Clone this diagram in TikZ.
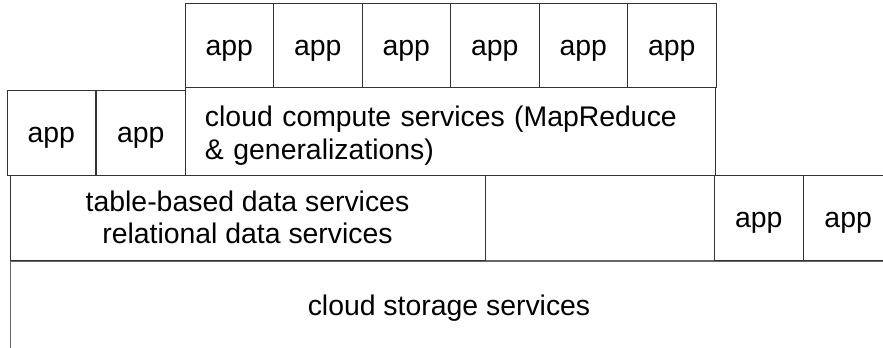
\documentclass[tikz,border=0pt]{standalone}
\usepackage{fontspec}
\setmainfont{Liberation Sans}
\usetikzlibrary{
  positioning,
}
\definecolor{border}{HTML}{333333}
\definecolor{layerGray}{HTML}{666666}
\newcommand{\diagfont}{\fontsize{28.5}{32.5}\selectfont}
\tikzset{
  appbox/.style={
    rectangle, draw=border, minimum width=88.5bp, minimum height=84bp,
    inner sep=0pt, font=\diagfont, line width=0.9bp,
    text height=26bp, text depth=6bp,
  },
  layerbox/.style={
    rectangle, draw=border, inner sep=0pt, align=center,
    font=\diagfont, line width=0.9bp,
  },
}

\begin{document}
\begin{tikzpicture}[x=1bp, y=-1bp]

  \useasboundingbox (0,0) rectangle (883,347);
  \clip (0,0) rectangle (883,347);

  % storage layer
  \node[layerbox, draw=layerGray, line width=1.4bp, minimum width=877bp, minimum height=88bp,
    text height=26bp, text depth=6bp] (storage) at (449, 305) {cloud storage services};

  % data layer
  \node[layerbox, minimum width=475bp, minimum height=85bp] (data) at (247.5, 217.5) {table-based data services\\relational data services};
  \node[appbox, minimum height=85bp] (rapp1) at (758.75, 217.5) {app};
  \node[appbox, minimum height=85bp, right=0pt of rapp1] (rapp2) {app};

  % compute layer
  \node[layerbox, minimum height=88bp, text width=490bp, align=left, inner xsep=20bp,
    text height=30bp] (compute) at (450, 131) {cloud compute services (MapReduce\\\& generalizations)};
  \node[appbox, minimum height=85bp] (lapp2) at (140.75, 132.5) {app};
  \node[appbox, minimum height=85bp, left=0pt of lapp2] (lapp1) {app};

  % top apps
  \foreach \i in {1,...,6}
    \node[appbox] (tapp\i) at ({185+88.5*(\i-0.5)}, 45) {app};

\end{tikzpicture}
\end{document}
